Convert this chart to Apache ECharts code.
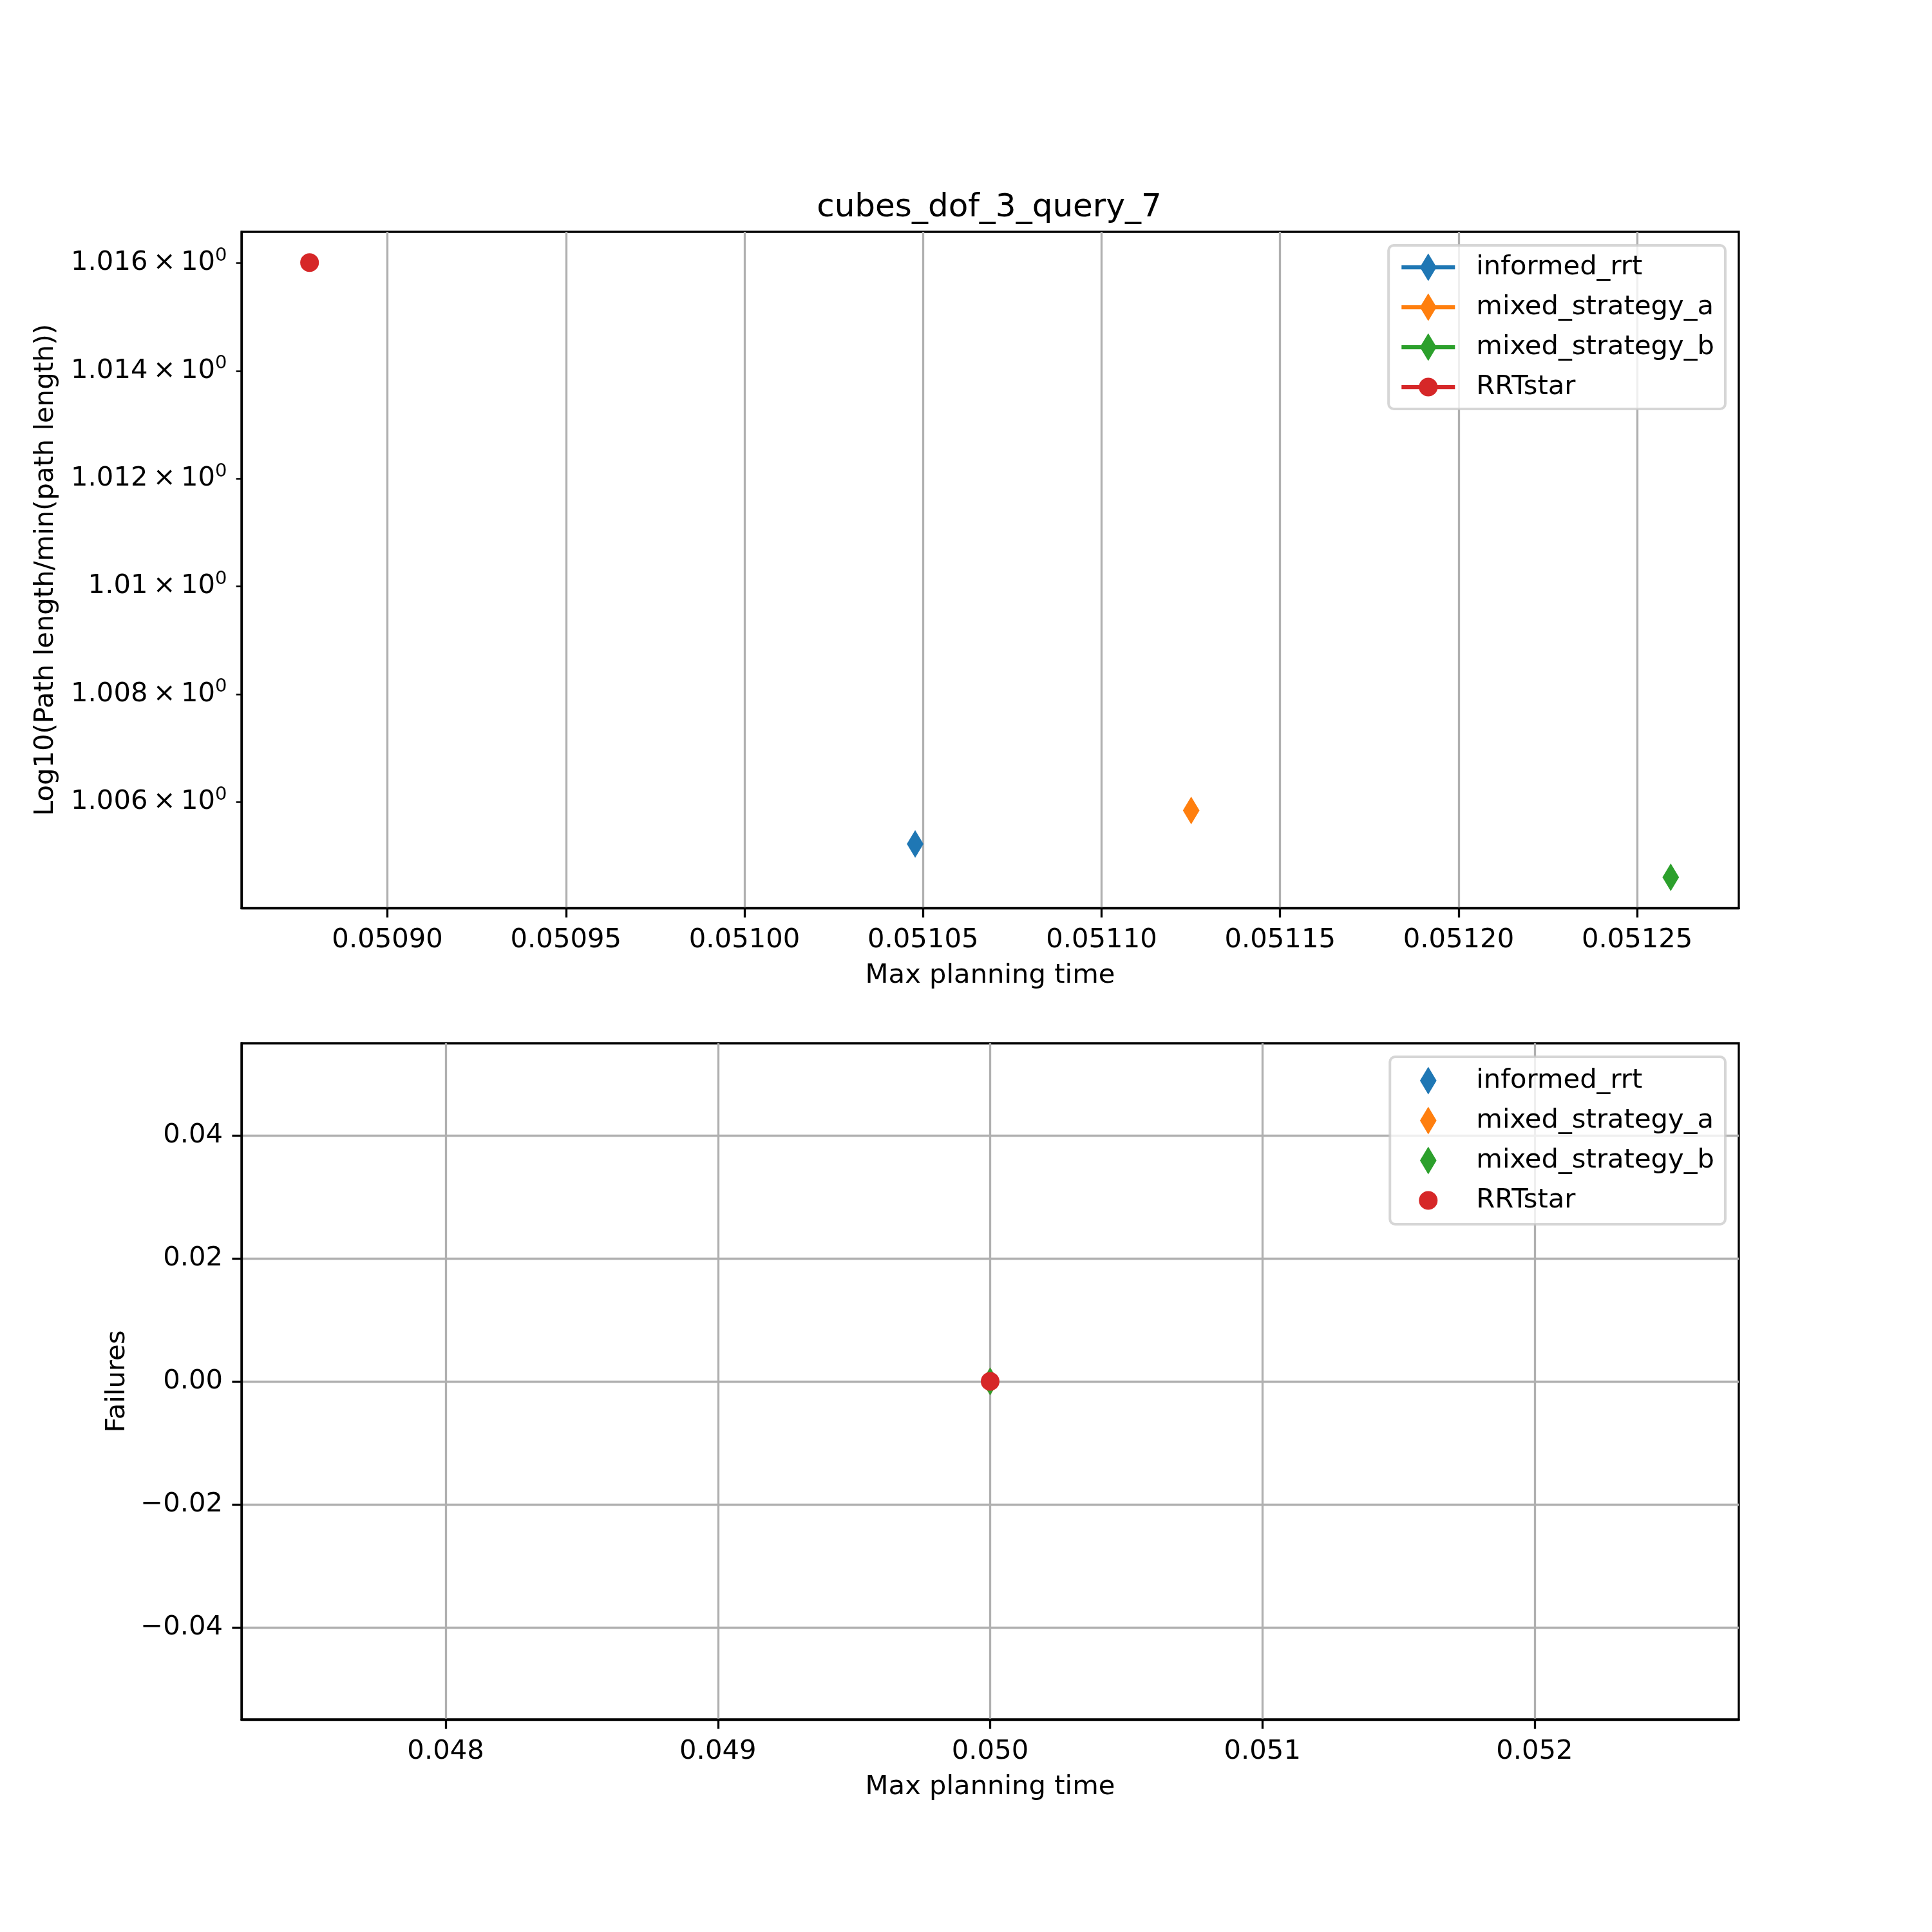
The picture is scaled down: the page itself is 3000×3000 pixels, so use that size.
<!DOCTYPE html>
<html><head><meta charset="utf-8">
<script src="https://cdn.jsdelivr.net/npm/echarts@6/dist/echarts.min.js"></script>
<style>html,body{margin:0;padding:0;background:#fff}#c{width:3000px;height:3000px}</style>
</head><body><div id="c"></div>
<script>
// ---- data ----
const seriesNames = ['informed_rrt', 'mixed_strategy_a', 'mixed_strategy_b', 'RRTstar'];
const topTimes = [0.0510478, 0.0511251, 0.0512594, 0.0508782];
const topLengths = [1.00522, 1.00584, 1.00460, 1.01601];
const bottomTimes = [0.05, 0.05, 0.05, 0.05];
const bottomFailures = [0, 0, 0, 0];
const topXTicks = [0.05090, 0.05095, 0.05100, 0.05105, 0.05110, 0.05115, 0.05120, 0.05125];
const topYTicks = [1.006, 1.008, 1.010, 1.012, 1.014, 1.016];
const bottomXTicks = [0.048, 0.049, 0.050, 0.051, 0.052];
const bottomYTicks = [-0.04, -0.02, 0.00, 0.02, 0.04];
const titleText = 'cubes_dof_3_query_7';

// ---- styles ----
const colors = ['#1f77b4', '#ff7f0e', '#2ca02c', '#d62728'];
const FONT = 'DejaVu Sans';
const FS = 41.7;
const DIAMOND = 'path://M-1,-1M1,1M0,-1L0.6,0L0,1L-0.6,0Z';
const CIRCLE = 'path://M-1.48,-1.48M1.48,1.48M1,0A1,1,0,1,1,-1,0A1,1,0,1,1,1,0Z';
const symbols = [DIAMOND, DIAMOND, DIAMOND, CIRCLE];

function mplLimits(vals) {
  let lo = Math.min(...vals), hi = Math.max(...vals);
  if (lo === hi) {
    if (lo === 0) { lo = -0.05; hi = 0.05; }
    else { const d = Math.abs(lo) * 0.05; lo -= d; hi += d; }
  }
  const m = (hi - lo) * 0.05;
  return [lo - m, hi + m];
}
const minus = s => s.replace('-', '\u2212');

const topX = mplLimits(topTimes), topY = mplLimits(topLengths);
const botX = mplLimits(bottomTimes), botY = mplLimits(bottomFailures);

const txt = {fontFamily: FONT, fontSize: FS, color: '#000'};
const gridLine = {show: true, lineStyle: {color: '#b0b0b0', width: 3.3}};
function xAxisCfg(gi, lim, ticks, fmt) {
  return {
    gridIndex: gi, type: 'value', min: lim[0], max: lim[1],
    name: 'Max planning time', nameLocation: 'middle', nameGap: 84,
    nameTextStyle: txt,
    axisLine: {show: true, onZero: false, lineStyle: {color: '#000', width: 3.3}},
    axisTick: {show: true, length: 14.6, lineStyle: {color: '#000', width: 3.3}, customValues: ticks},
    axisLabel: Object.assign({customValues: ticks, margin: 29, formatter: fmt}, txt),
    splitLine: gridLine
  };
}

const chart = echarts.init(document.getElementById('c'), null, {renderer: 'canvas', width: 3000, height: 3000});

const series = [];
seriesNames.forEach((n, i) => {
  series.push({
    name: n, type: 'line', xAxisIndex: 0, yAxisIndex: 0,
    data: [[topTimes[i], topLengths[i]]],
    symbol: symbols[i], symbolSize: 43, showSymbol: true,
    itemStyle: {color: colors[i]}, lineStyle: {color: colors[i], width: 6.25},
    emphasis: {disabled: true}, animation: false, z: 3
  });
});
seriesNames.forEach((n, i) => {
  series.push({
    name: n + '#2', type: 'scatter', xAxisIndex: 1, yAxisIndex: 1,
    data: [[bottomTimes[i], bottomFailures[i]]],
    symbol: symbols[i], symbolSize: 43,
    itemStyle: {color: colors[i], opacity: 1},
    emphasis: {disabled: true}, animation: false, z: 3
  });
});

const legendBase = {
  orient: 'vertical', right: 321, itemWidth: 83, itemGap: 14,
  backgroundColor: 'rgba(255,255,255,0.8)', borderColor: 'rgba(204,204,204,0.8)',
  borderWidth: 4, borderRadius: 8, selectedMode: false,
  lineStyle: {width: 6.25},
  textStyle: {fontFamily: FONT, fontSize: FS, color: '#000', padding: [0, 0, 0, 28], lineHeight: 48}
};

chart.setOption({
  animation: false,
  backgroundColor: '#fff',
  title: {
    text: titleText, left: 1531, textAlign: 'center', top: 293,
    textStyle: {fontFamily: FONT, fontSize: 50, fontWeight: 'normal', color: '#000'}
  },
  legend: [
    Object.assign({}, legendBase, {top: 381, itemHeight: 54, padding: [10, 17, 10, 17],
      data: seriesNames}),
    Object.assign({}, legendBase, {top: 1641, itemHeight: 43, padding: [13, 17, 13, 38],
      data: seriesNames.map(n => n + '#2'), formatter: n => n.replace('#2', '')})
  ],
  grid: [
    {left: 375, top: 360, width: 2325, height: 1050, show: true, borderColor: '#000', borderWidth: 3.3, backgroundColor: 'transparent'},
    {left: 375, top: 1620, width: 2325, height: 1050, show: true, borderColor: '#000', borderWidth: 3.3, backgroundColor: 'transparent'}
  ],
  xAxis: [
    xAxisCfg(0, topX, topXTicks, v => v.toFixed(5)),
    xAxisCfg(1, botX, bottomXTicks, v => v.toFixed(3))
  ],
  yAxis: [
    {
      gridIndex: 0, type: 'value', min: topY[0], max: topY[1],
      name: 'Log10(Path length/min(path length))', nameLocation: 'middle', nameGap: 283,
      nameTextStyle: txt,
      axisLine: {show: true, onZero: false, lineStyle: {color: '#000', width: 3.3}},
      axisTick: {show: true, length: 8.3, lineStyle: {color: '#000', width: 2.5}, customValues: topYTicks},
      axisLabel: {
        customValues: topYTicks, margin: 22.5,
        formatter: v => '{m|' + String(Number(v.toFixed(3))) + '\u2009\u00d7\u200910}{s|0}',
        rich: {
          m: {fontFamily: FONT, fontSize: FS, color: '#000'},
          s: {fontFamily: FONT, fontSize: 29, color: '#000', padding: [0, 0, 22, 0]}
        }
      },
      splitLine: {show: false}
    },
    {
      gridIndex: 1, type: 'value', min: botY[0], max: botY[1],
      name: 'Failures', nameLocation: 'middle', nameGap: 172,
      nameTextStyle: txt,
      axisLine: {show: true, onZero: false, lineStyle: {color: '#000', width: 3.3}},
      axisTick: {show: true, length: 14.6, lineStyle: {color: '#000', width: 3.3}, customValues: bottomYTicks},
      axisLabel: Object.assign({customValues: bottomYTicks, margin: 29, formatter: v => minus(v.toFixed(2))}, txt),
      splitLine: gridLine
    }
  ],
  series: series
});
</script>
</body></html>
